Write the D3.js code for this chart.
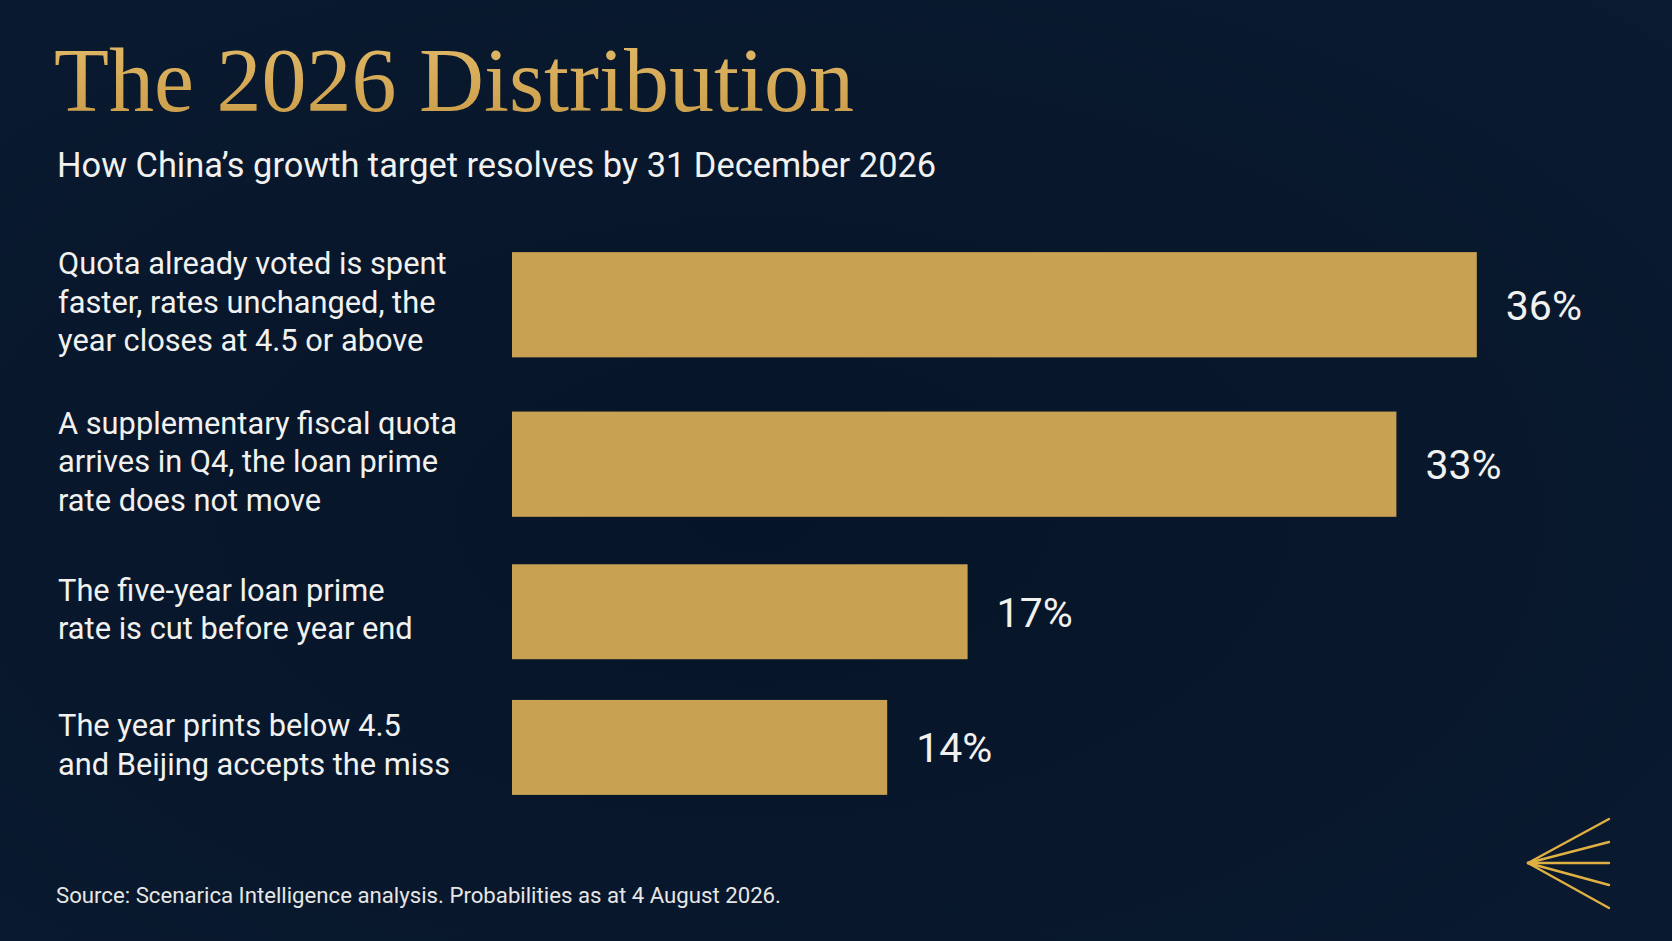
<!DOCTYPE html>
<html>
<head>
<meta charset="utf-8">
<script src="https://cdn.jsdelivr.net/npm/d3@7"></script>
<style>
  html, body { margin: 0; padding: 0; background: #071528; }
  svg { display: block; }
</style>
</head>
<body>
<div id="chart"></div>
<script>
// Data
const scenarios = [
  ["Quota already voted is spent", "faster, rates unchanged, the", "year closes at 4.5 or above"],
  ["A supplementary fiscal quota", "arrives in Q4, the loan prime", "rate does not move"],
  ["The five-year loan prime", "rate is cut before year end"],
  ["The year prints below 4.5", "and Beijing accepts the miss"]
];
const probabilities = [36, 33, 17, 14];
const valueLabels = ["36%", "33%", "17%", "14%"];

const titleText = "The 2026 Distribution";
const subtitleText = "How China\u2019s growth target resolves by 31 December 2026";
const sourceText = "Source: Scenarica Intelligence analysis. Probabilities as at 4 August 2026.";

const W = 1672, H = 941;
const gold = "#c9a152";
const textColor = "#f1f1ef";
const sans = "Roboto, 'Noto Sans', sans-serif";

const svg = d3.select("#chart").append("svg")
  .attr("width", W)
  .attr("height", H);

// background with a soft vignette
const defs = svg.append("defs");
const bg = defs.append("radialGradient")
  .attr("id", "bg").attr("cx", "45%").attr("cy", "55%").attr("r", "75%");
bg.append("stop").attr("offset", "0%").attr("stop-color", "#061427");
bg.append("stop").attr("offset", "100%").attr("stop-color", "#0a1a30");
svg.append("rect").attr("width", W).attr("height", H).attr("fill", "url(#bg)");

const titleGrad = defs.append("linearGradient")
  .attr("id", "titleGrad").attr("x1", 0).attr("y1", 0).attr("x2", 0).attr("y2", 1);
titleGrad.append("stop").attr("offset", "0%").attr("stop-color", "#e2bb6a");
titleGrad.append("stop").attr("offset", "100%").attr("stop-color", "#c99a46");

// title + subtitle
svg.append("text")
  .attr("x", 54).attr("y", 111)
  .attr("fill", "url(#titleGrad)")
  .style("font-family", "'Liberation Serif', 'DejaVu Serif', serif")
  .style("font-size", "90px")
  .text(titleText);

svg.append("text")
  .attr("x", 57).attr("y", 177)
  .attr("fill", textColor)
  .style("font-family", sans)
  .style("font-size", "34.4px")
  .text(subtitleText);

// rows get taller when the label wraps onto more lines
const rowUnits = scenarios.map(lines => lines.length + 3.7);
const rowStart = [0, ...d3.cumsum(rowUnits)];
const y = d3.scaleLinear()
  .domain([0, d3.sum(rowUnits)])
  .range([225, 225 + d3.sum(rowUnits) * 23.8]);

const x = d3.scaleLinear()
  .domain([0, 40])
  .range([512, 512 + 1072]);

const rows = scenarios.map((lines, i) => {
  const top = y(rowStart[i]);
  const bottom = y(rowStart[i + 1]);
  const h = (bottom - top) * (lines.length > 2 ? 0.66 : 0.7);
  return { lines, value: probabilities[i], label: valueLabels[i], cy: (top + bottom) / 2, h };
});

// bars
svg.selectAll(".bar")
  .data(rows)
  .enter().append("rect")
  .attr("class", "bar")
  .attr("x", x(0))
  .attr("y", d => d.cy - d.h / 2)
  .attr("width", d => x(d.value) - x(0))
  .attr("height", d => d.h)
  .attr("fill", gold);

// value labels
svg.selectAll(".value")
  .data(rows)
  .enter().append("text")
  .attr("class", "value")
  .attr("x", d => x(d.value) + 29)
  .attr("y", d => d.cy + 15)
  .attr("fill", textColor)
  .style("font-family", sans)
  .style("font-size", "41px")
  .text(d => d.label);

// scenario labels, vertically centred on the bar
const lineH = 38.5;
const labels = svg.selectAll(".label")
  .data(rows)
  .enter().append("text")
  .attr("class", "label")
  .attr("fill", textColor)
  .style("font-family", sans)
  .style("font-size", "30.8px");

labels.selectAll("tspan")
  .data(d => d.lines.map((t, j) => ({ t, j, n: d.lines.length, cy: d.cy })))
  .enter().append("tspan")
  .attr("x", 58)
  .attr("y", d => d.cy + 8 + (d.j - (d.n - 1) / 2) * lineH)
  .text(d => d.t);

// source note
svg.append("text")
  .attr("x", 56).attr("y", 903)
  .attr("fill", "#e6e6e4")
  .style("font-family", sans)
  .style("font-size", "22.2px")
  .text(sourceText);

// fan mark, bottom right
const apex = [1528, 863];
const ends = [819, 842, 863, 885, 908];
svg.append("g")
  .selectAll("line")
  .data(ends)
  .enter().append("line")
  .attr("x1", apex[0]).attr("y1", apex[1])
  .attr("x2", 1609).attr("y2", d => d)
  .attr("stroke", "#e0b043")
  .attr("stroke-width", 2.4)
  .attr("stroke-linecap", "round");
</script>
</body>
</html>
